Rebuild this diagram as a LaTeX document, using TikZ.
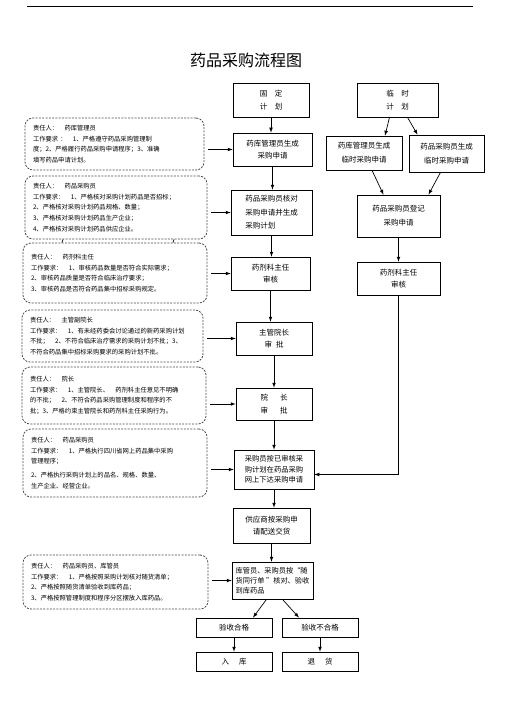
\documentclass[tikz,border=0pt]{standalone}
\usepackage{fontspec}
\setmainfont{Noto Sans CJK SC}
\begin{document}
\begin{tikzpicture}[>=latex, x=1pt, y=-1pt,
    stepbox/.style={draw, line width=0.7pt, align=center, inner sep=0pt, font=\fontsize{7.5}{12.5}\selectfont},
    dutybox/.style={draw=black!70, dash pattern=on 2pt off 1.3pt, line width=0.8pt, rounded corners=8pt, align=left, inner xsep=8pt, inner ysep=0pt, font=\fontsize{6.3}{10.6}\selectfont},
    flow/.style={->, line width=0.7pt}]
    \path[fill=white] (0,0) rectangle (505,714);
    \draw[line width=0.9pt] (27,6)--(473,6);
    \node (title) at (246,60) {\fontsize{16}{16}\selectfont 药品采购流程图};

    % fixed plan
    \node[stepbox, minimum width=76pt, minimum height=34pt] (m0) at (271,100) {固　定\\计　划};
    \node[stepbox, minimum width=79pt, minimum height=33pt] (m1) at (272.5,149.5) {药库管理员生成\\采购申请};
    \node[stepbox, minimum width=81pt, minimum height=45pt, align=left, font=\fontsize{7.5}{13.5}\selectfont] (m2) at (271.5,212.5) {药品采购员核对\\采购申请并生成\\采购计划};
    \node[stepbox, minimum width=79pt, minimum height=33pt] (m3) at (270.5,273.5) {药剂科主任\\审核};
    \node[stepbox, minimum width=76pt, minimum height=33pt] (m4) at (274,338.5) {主管院长\\审\hspace{4pt}批};
    \node[stepbox, minimum width=76pt, minimum height=32pt] (m5) at (274,404) {院\hspace{12pt}长\\审\hspace{12pt}批};
    \node[stepbox, minimum width=80pt, minimum height=39pt, font=\fontsize{7.3}{10.5}\selectfont] (m6) at (274,469.5) {采购员按已审核采\\购计划在药品采购\\网上下达采购申请};
    \node[stepbox, minimum width=77pt, minimum height=35pt] (m7) at (271.5,525.5) {供应商按采购申\\请配送交货};
    \node[stepbox, minimum width=81pt, minimum height=37pt, align=left, font=\fontsize{7.2}{9.8}\selectfont] (m8) at (272.5,580.5) {库管员、采购员按“随\\货同行单 ”核对、验收\\到库药品};

    % temporary plan
    \node[stepbox, minimum width=81pt, minimum height=34pt] (t) at (397.5,100) {临　时\\计　划};
    \node[stepbox, minimum width=76pt, minimum height=34pt, font=\fontsize{7.5}{14}\selectfont] (ta) at (364,153) {药库管理员生成\\临时采购申请};
    \node[stepbox, minimum width=75pt, minimum height=37pt, font=\fontsize{7.5}{14}\selectfont] (tb) at (446.5,153.5) {药品采购员生成\\临时采购申请};
    \node[stepbox, minimum width=83pt, minimum height=42pt, font=\fontsize{7.5}{14}\selectfont] (j) at (398.5,216) {药品采购员登记\\采购申请};
    \node[stepbox, minimum width=83pt, minimum height=33pt] (r3) at (398.5,278.5) {药剂科主任\\审核};

    \node[stepbox, minimum width=76pt, minimum height=19pt] (pass) at (234,627.5) {验收合格};
    \node[stepbox, minimum width=76pt, minimum height=19pt] (fail) at (320,627.5) {验收不合格};
    \node[stepbox, minimum width=76pt, minimum height=19pt] (store) at (234,661.5) {入\hspace{10pt}库};
    \node[stepbox, minimum width=76pt, minimum height=19pt] (ret) at (320,661.5) {退\hspace{10pt}货};

    % duties
    \node[dutybox, text width=163pt, minimum height=52pt] (d1) at (114.5,144) {责任人：　药库管理员\\工作要求 ：　1、严格遵守药品采购管理制\\度；2、严格履行药品采购申请程序；3、准确\\填写药品申请计划。};
    \node[dutybox, text width=166pt, minimum height=63pt] (d2) at (116,207.5) {责任人：　药品采购员\\工作要求：　1、严格核对采购计划药品是否招标；\\2、严格核对采购计划药品规格、数量；\\3、严格核对采购计划药品生产企业；\\4、严格核对采购计划药品供应企业。};
    \node[dutybox, text width=168pt, minimum height=60pt] (d3) at (115,273) {责任人：　药剂科主任\\工作要求：　1、审核药品数量是否符合实际需求；\\2、审核药品质量是否符合临床治疗要求；\\3、审核药品是否符合药品集中招标采购规定。};
    \node[dutybox, text width=165pt, minimum height=52pt] (d4) at (112.5,336) {责任人：　主管副院长\\工作要求：　1、有未经药委会讨论通过的新药采购计划\\不批；　2、不符合临床治疗需求的采购计划不批；3、\\不符合药品集中招标采购要求的采购计划不批。};
    \node[dutybox, text width=168pt, minimum height=57pt] (d5) at (114,395.5) {责任人：　院长\\工作要求：　1、主管院长、　药剂科主任意见不明确\\的不批；　2、不符合药品采购管理制度和程序的不\\批；3、严格约束主管院长和药剂科主任采购行为。};
    \node[dutybox, text width=168pt, minimum height=68pt] (d6) at (115,463) {责任人：　药品采购员\\工作要求：　1、严格执行四川省网上药品集中采购\\管理程序；\\[3pt]2、严格执行采购计划上的品名、规格、数量、\\生产企业、经营企业。};
    \node[dutybox, text width=169pt, minimum height=54pt] (d7) at (115.5,582) {责任人：　药品采购员、库管员\\工作要求：　1、严格按照采购计划核对随货清单；\\2、严格按照随货清单验收到库药品；\\3、严格按照管理制度和程序分区摆放入库药品。};

\foreach \d/\m in {d1/m1,d2/m2,d3/m3,d4/m4,d5/m5,d6/m6,d7/m8}
{
    \draw[flow] (\d.east |- \m.west) ++(4,0) -- (\m.west);
}
\foreach \dx in {-53,58}
{
    \draw[line width=0.7pt] ([xshift=\dx pt]d2.south) -- ([xshift=\dx pt]d3.north);
}
\foreach \a/\b in {m0/m1,m1/m2,m2/m3,m3/m4,m4/m5,m5/m6,m6/m7,m7/m8,j/r3,pass/store,fail/ret}
{
    \draw[flow] (\a.south) -- (\a.south |- \b.north);
}
\draw[flow] ([xshift=-8pt]t.south) -- ([xshift=21pt]ta.north);
\draw[flow] ([xshift=10pt]t.south) -- ([xshift=-29pt]tb.north);
\draw[flow] ([xshift=8pt]ta.south) -- ([xshift=-15pt]j.north);
\draw[flow] ([xshift=-6pt]tb.south) -- ([xshift=30pt]j.north);
\draw[flow] (r3.south) |- ([yshift=-5pt]m6.east);
\draw[flow] ([xshift=-6pt]m8.south) -- ([xshift=19pt]pass.north);
\draw[flow] ([xshift=10pt]m8.south) -- ([xshift=-21pt]fail.north);

\end{tikzpicture}
\end{document}
